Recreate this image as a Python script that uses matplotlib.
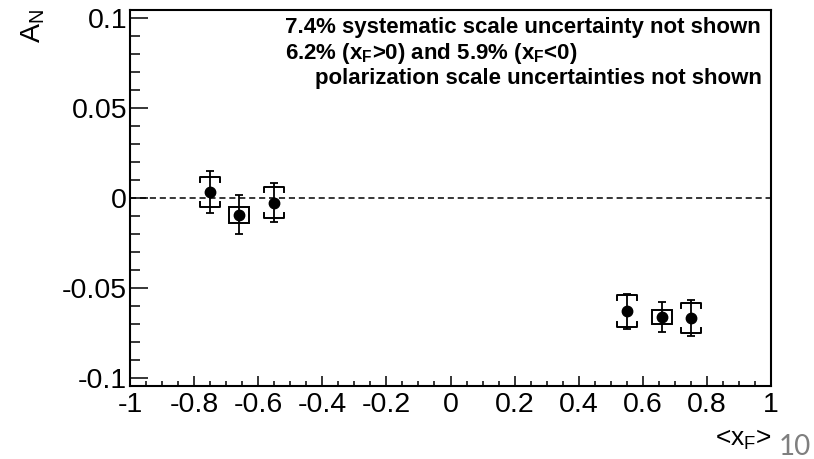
import matplotlib
matplotlib.use('Agg')
import matplotlib.pyplot as plt
from matplotlib.patches import Rectangle
from matplotlib.ticker import MultipleLocator, FuncFormatter

plt.rcParams['font.family'] = ['Liberation Sans', 'DejaVu Sans']
plt.rcParams['axes.unicode_minus'] = False
plt.rcParams['mathtext.fontset'] = 'custom'
plt.rcParams['mathtext.rm'] = 'Liberation Sans'
plt.rcParams['mathtext.it'] = 'Liberation Sans'
plt.rcParams['mathtext.bf'] = 'Liberation Sans:bold'

# points with bracket-style systematics
xf_c = [-0.75, -0.55, 0.55, 0.75]
an_c = [0.0033, -0.0026, -0.0628, -0.0668]
stat_c = [0.0117, 0.0110, 0.0097, 0.0100]
sys_c = [0.0083, 0.0086, 0.0089, 0.0083]

# points with box-style systematics
xf_s = [-0.66, 0.66]
an_s = [-0.0094, -0.0660]
stat_s = [0.0108, 0.0085]
sys_s = [0.0044, 0.0039]

half_w = 0.031   # half width of brackets / boxes in x
leg = 0.0028     # bracket leg length

fig = plt.figure(figsize=(8.14, 4.59), dpi=100)
ax = fig.add_axes([130/814, 1-386/459, 641/814, 376/459])

ax.axhline(0, color='black', lw=1.1, ls=(0, (4, 2.5)), zorder=1)

# systematic brackets
for x, y, s in zip(xf_c, an_c, sys_c):
    ax.plot([x-half_w, x-half_w, x+half_w, x+half_w],
            [y+s-leg, y+s, y+s, y+s-leg], color='black', lw=1.4, zorder=2)
    ax.plot([x-half_w, x-half_w, x+half_w, x+half_w],
            [y-s+leg, y-s, y-s, y-s+leg], color='black', lw=1.4, zorder=2)

# systematic boxes
for x, y, s in zip(xf_s, an_s, sys_s):
    ax.add_patch(Rectangle((x-half_w, y-s), 2*half_w, 2*s, fill=False,
                           ec='black', lw=1.4, zorder=2))

ax.errorbar(xf_c, an_c, yerr=stat_c, fmt='o', color='black', ms=7.5,
            elinewidth=1.3, capsize=2.8, capthick=1.3, zorder=3)
ax.errorbar(xf_s, an_s, yerr=stat_s, fmt='o', color='black', ms=7.5,
            elinewidth=1.3, capsize=2.8, capthick=1.3, zorder=3)

ax.set_xlim(-1, 1)
ax.set_ylim(-0.1044, 0.1044)
ax.xaxis.set_major_locator(MultipleLocator(0.2))
ax.xaxis.set_minor_locator(MultipleLocator(0.05))
ax.yaxis.set_major_locator(MultipleLocator(0.05))
ax.yaxis.set_minor_locator(MultipleLocator(0.01))
fmt = FuncFormatter(lambda v, p: '%g' % round(v, 3))
ax.xaxis.set_major_formatter(fmt)
ax.yaxis.set_major_formatter(fmt)
ax.tick_params(axis='both', which='both', direction='in', width=1.1,
               labelsize=20.5, top=False, right=False)
ax.tick_params(axis='y', which='major', length=13, pad=2)
ax.tick_params(axis='y', which='minor', length=7)
ax.tick_params(axis='x', which='major', length=7, pad=4)
ax.tick_params(axis='x', which='minor', length=3.6)
for sp in ax.spines.values():
    sp.set_linewidth(1.5)

fig.text(33/814, 1-26/459, r'A$_\mathrm{N}$', fontsize=20.5, rotation=90,
         ha='center', va='center')
fig.text(772/814, 1-440/459, r'<x$_\mathrm{F}$>', fontsize=19,
         ha='right', va='center')
fig.text(779/814, 1-447/459, '10', fontsize=20, color='#7f7f7f',
         family='Lato', ha='left', va='center')

fig.text(285/814, 1-28/459, '7.4% systematic scale uncertainty not shown',
         fontsize=16, fontweight='bold', ha='left', va='center')
fig.text(285/814, 1-53/459,
         r'6.2% (x$_\mathbf{F}$>0) and 5.9% (x$_\mathbf{F}$<0)',
         fontsize=16, fontweight='bold', ha='left', va='center')
fig.text(762/814, 1-78/459, 'polarization scale uncertainties not shown',
         fontsize=16, fontweight='bold', ha='right', va='center')

fig.savefig('out.png', dpi=100)
